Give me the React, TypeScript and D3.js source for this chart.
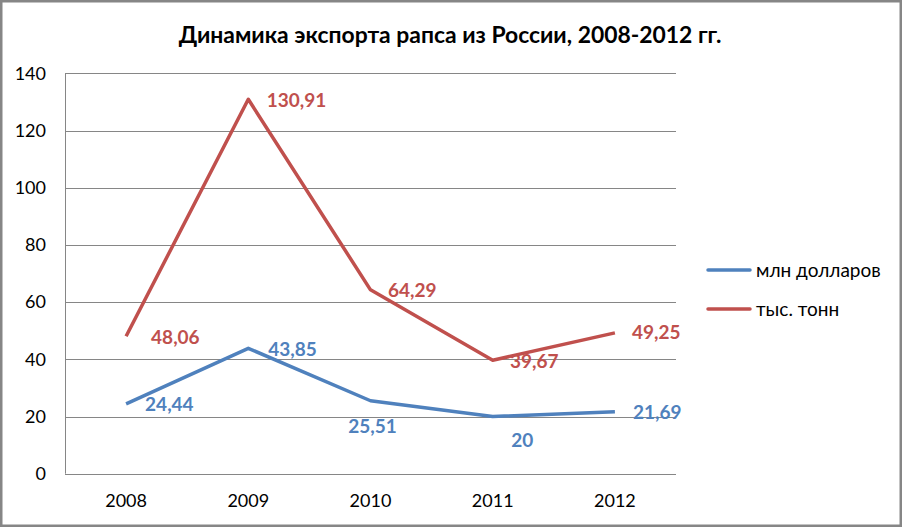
import React from "react";
import * as d3 from "d3";

const years = ["2008", "2009", "2010", "2011", "2012"];
const usd = [24.44, 43.85, 25.51, 20, 21.69];
const tons = [48.06, 130.91, 64.29, 39.67, 49.25];
const usdLabels = ["24,44", "43,85", "25,51", "20", "21,69"];
const tonsLabels = ["48,06", "130,91", "64,29", "39,67", "49,25"];
const yTicks = [0, 20, 40, 60, 80, 100, 120, 140];
const seriesNames = ["млн долларов", "тыс. тонн"];

// label placement offsets (style, not data)
const usdOffsets: [number, number, string][] = [
  [19, 1, "start"], [20, 1, "start"], [2, 26, "middle"], [29.5, 24, "middle"], [18, 0.5, "start"],
];
const tonsOffsets: [number, number, string][] = [
  [25, 1, "start"], [18.5, 1.5, "start"], [17.5, 1, "start"], [17.3, 1.5, "start"], [17, 0, "start"],
];

const W = 902, H = 527;
const M = { left: 65, right: 676, top: 73.3, bottom: 473.7 };
const BLUE = "#4F81BD";
const RED = "#C0504D";
const GRID = "#868686";
const FONT = "Lato, 'Open Sans', sans-serif";

export default function App() {
  const x = d3.scaleBand<string>().domain(years).range([M.left, M.right]);
  const y = d3.scaleLinear().domain([0, 140]).range([M.bottom, M.top]);
  const cx = (i: number) => (x(years[i]) as number) + x.bandwidth() / 2;
  const line = d3.line<number>().x((_, i) => cx(i)).y((d) => y(d));

  const series = [
    { vals: usd, labels: usdLabels, offs: usdOffsets, color: BLUE },
    { vals: tons, labels: tonsLabels, offs: tonsOffsets, color: RED },
  ];

  return (
    <svg width={W} height={H} style={{ position: "absolute", left: 0, top: 0, background: "#fff" }}
      fontFamily={FONT}>
      <rect x={1.25} y={1.25} width={W - 2.5} height={H - 2.5} fill="#fff" stroke={GRID} strokeWidth={2.5} />
      <text x={450} y={43} textAnchor="middle" fontSize={22.9} fontWeight="bold" fill="#000">
        Динамика экспорта рапса из России, 2008-2012 гг.
      </text>
      {yTicks.map((t) => (
        <g key={t}>
          <line x1={M.left} x2={M.right} y1={Math.round(y(t)) + 0.5} y2={Math.round(y(t)) + 0.5}
            stroke={GRID} strokeWidth={1} />
          <text x={46} y={y(t)} dy="0.35em" textAnchor="end" fontSize={18} fill="#000">{t}</text>
        </g>
      ))}
      <line x1={M.left + 0.5} x2={M.left + 0.5} y1={M.top} y2={M.bottom} stroke={GRID} strokeWidth={1} />
      {years.map((yr, i) => (
        <text key={yr} x={cx(i)} y={501} dy="0.35em" textAnchor="middle" fontSize={18} fill="#000">{yr}</text>
      ))}
      {series.map((s, si) => (
        <g key={si}>
          <path d={line(s.vals) || ""} fill="none" stroke={s.color} strokeWidth={3.5} strokeLinejoin="round" />
          {s.vals.map((v, i) => (
            <text key={i} x={cx(i) + s.offs[i][0]} y={y(v) + s.offs[i][1]} dy="0.35em"
              textAnchor={s.offs[i][2] as any} fontSize={19} fontWeight="bold" fill={s.color}>
              {s.labels[i]}
            </text>
          ))}
        </g>
      ))}
      {seriesNames.map((n, i) => (
        <g key={n}>
          <line x1={708} x2={750} y1={270 + i * 39} y2={270 + i * 39} stroke={i === 0 ? BLUE : RED}
            strokeWidth={3.5} strokeLinecap="round" />
          <text x={756} y={270 + i * 39} dy="0.35em" fontSize={19} fill="#000">{n}</text>
        </g>
      ))}
    </svg>
  );
}
